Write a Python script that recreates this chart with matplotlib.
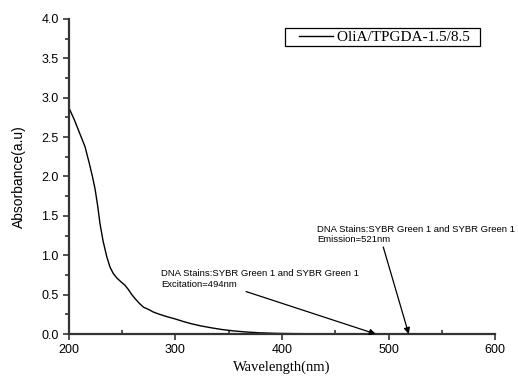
import matplotlib.pyplot as plt
from matplotlib.legend_handler import HandlerLine2D
import numpy as np

# espectro de absorbancia
longitud = [200, 205, 210, 215, 219, 222, 224.5, 227, 229, 232, 235.5, 238.5, 241.5, 245, 249, 252.5, 256, 259, 262, 266, 270,
            275, 279, 285, 292, 300, 307, 315, 323, 333, 343, 354, 366, 379, 395, 410, 430, 460, 500, 550, 600]
absorbancia = [2.87, 2.72, 2.55, 2.38, 2.17, 2.0, 1.84, 1.62, 1.41, 1.18, 0.98, 0.85, 0.77, 0.71, 0.66, 0.62, 0.56, 0.5, 0.45, 0.39, 0.34,
               0.31, 0.28, 0.25, 0.22, 0.19, 0.16, 0.13, 0.105, 0.08, 0.058, 0.04, 0.026, 0.015, 0.008, 0.005, 0.003, 0.002, 0.001, 0.0005, 0.0]

etiqueta_serie = "OliA/TPGDA-1.5/8.5"
texto_exc = "DNA Stains:SYBR Green 1 and SYBR Green 1\nExcitation=494nm"
texto_emi = "DNA Stains:SYBR Green 1 and SYBR Green 1\nEmission=521nm"

fig = plt.figure(figsize=(5.18, 3.76), dpi=100)
ax = fig.add_axes([0.1332, 0.1117, 0.8224, 0.8378])

linea, = ax.plot(longitud, absorbancia, color='black', lw=1.0, label=etiqueta_serie + "  ")

ax.set_xlim(200, 600)
ax.set_ylim(0, 4.0)
ax.set_xticks(np.arange(200, 601, 100))
ax.set_xticks(np.arange(250, 600, 100), minor=True)
ax.set_yticks(np.arange(0, 4.01, 0.5))
ax.set_yticks(np.arange(0.25, 4.0, 0.5), minor=True)
ax.yaxis.set_major_formatter(plt.FormatStrFormatter('%.1f'))

for s in ['top', 'right']:
    ax.spines[s].set_visible(False)
for s in ['left', 'bottom']:
    ax.spines[s].set_linewidth(1.6)
    ax.spines[s].set_color('#333333')

ax.tick_params(axis='both', which='major', labelsize=9, length=4, width=1.2, color='#333333',
               labelfontfamily='Liberation Sans')
ax.tick_params(axis='y', which='minor', direction='out', length=3, width=1.2, color='#333333')
ax.tick_params(axis='x', which='minor', direction='in', length=3, width=1.2, color='#333333')

ax.set_ylabel('Absorbance(a.u)', fontsize=10, family='Liberation Sans', labelpad=11)
ax.set_xlabel('Wavelength(nm)', fontsize=10.5, family='Liberation Serif', labelpad=3)

ax.annotate(texto_exc, xy=(488, 0.0), xytext=(286.4, 0.70), fontsize=6.8, family='Liberation Sans',
            va='center', ha='left', linespacing=1.25,
            arrowprops=dict(arrowstyle='-|>', color='black', lw=0.9, mutation_scale=9,
                            shrinkA=0, shrinkB=0, relpos=(0.35, 0.12)))
ax.annotate(texto_emi, xy=(519, 0.0), xytext=(433, 1.265), fontsize=6.8, family='Liberation Sans',
            va='center', ha='left', linespacing=1.25,
            arrowprops=dict(arrowstyle='-|>', color='black', lw=0.9, mutation_scale=9,
                            shrinkA=0, shrinkB=0, relpos=(0.33, 0.0)))

leg = ax.legend(loc='upper left', bbox_to_anchor=(285 / 518, 1 - 28 / 376), bbox_transform=fig.transFigure,
                fancybox=False, edgecolor='black', framealpha=1, borderpad=0.15, handlelength=3.0,
                handletextpad=0.26, borderaxespad=0, prop={'family': 'Liberation Serif', 'size': 11},
                handler_map={linea: HandlerLine2D(xpad=0.78)})
leg.get_frame().set_linewidth(0.9)

fig.savefig('out.png', dpi=100)
